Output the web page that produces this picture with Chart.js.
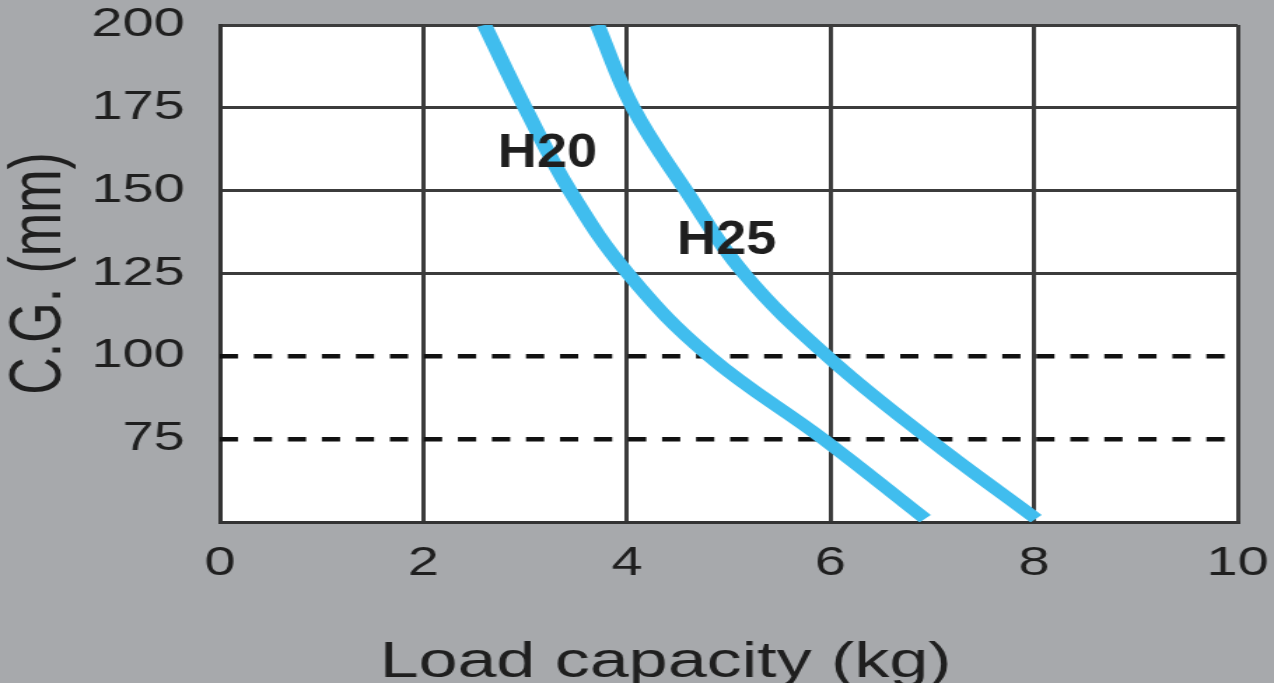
<!DOCTYPE html>
<html>
<head>
<meta charset="utf-8">
<script src="https://cdn.jsdelivr.net/npm/chart.js@4.4.1/dist/chart.umd.min.js"></script>
<style>
  html, body { margin: 0; padding: 0; background: #a7a9ac; overflow: hidden; }
  /* the original artwork is stretched sideways, so draw narrow and widen */
  #chart { display: block; transform: scaleX(1.4); transform-origin: 0 0; }
</style>
</head>
<body>
<canvas id="chart" width="910" height="683"></canvas>
<script>
// Values
const cgLevels = [200, 175, 150, 125, 100, 75, 51];
const h20Load = [2.6, 3.0, 3.44, 4.01, 4.81, 5.93, 6.93];
const h25Load = [3.71, 4.06, 4.58, 5.15, 5.97, 6.97, 8.02];
const guideLevels = [100, 75];
const guideSpan = [0, 10];
const curveNames = ['H20', 'H25'];

const blue = '#40bdee';
const ink = '#1f1f1f';
const gridColor = '#3c3c3c';

function toPoints(xs, ys) {
    return xs.map((x, i) => ({ x: x, y: ys[i] }));
}

// white plot area on the grey page
const plotBackground = {
    id: 'plotBackground',
    beforeDraw(chart) {
        const a = chart.chartArea;
        const ctx = chart.ctx;
        ctx.save();
        ctx.fillStyle = '#ffffff';
        ctx.fillRect(a.left, a.top, a.right - a.left, a.bottom - a.top);
        ctx.restore();
    }
};

// curve names and the x axis title
const textLabels = {
    id: 'textLabels',
    afterDatasetsDraw(chart) {
        const ctx = chart.ctx;
        const xs = chart.scales.x;
        const ys = chart.scales.y;
        const anchors = [[3.22, 157], [4.98, 131]];
        ctx.save();
        ctx.fillStyle = ink;
        ctx.textAlign = 'center';
        ctx.textBaseline = 'alphabetic';
        ctx.font = 'bold 49px "Liberation Sans", Arial, sans-serif';
        curveNames.forEach((name, i) => {
            ctx.save();
            ctx.translate(xs.getPixelForValue(anchors[i][0]), ys.getPixelForValue(anchors[i][1]));
            ctx.scale(0.79, 1);
            ctx.fillText(name, 0, 0);
            ctx.restore();
        });
        ctx.font = '50px "Liberation Sans", Arial, sans-serif';
        ctx.fillText('Load capacity (kg)', xs.getPixelForValue(4.38), 677);
        ctx.restore();
    }
};

const guideSets = guideLevels.map(level => ({
    label: 'guide ' + level,
    data: guideSpan.map(x => ({ x: x, y: level })),
    borderColor: '#111111',
    borderWidth: 4.5,
    borderDash: [13, 11.3],
    pointRadius: 0,
    order: 2
}));

const curveSets = [h20Load, h25Load].map((loads, i) => ({
    label: curveNames[i],
    data: toPoints(loads, cgLevels),
    borderColor: blue,
    borderWidth: 11,
    pointRadius: 0,
    tension: 0.4,
    clip: 0,
    order: 1
}));

new Chart(document.getElementById('chart'), {
    type: 'line',
    data: { datasets: guideSets.concat(curveSets) },
    options: {
        responsive: false,
        animation: false,
        layout: { padding: { top: 25, right: 26, left: 0, bottom: 0 } },
        plugins: {
            legend: { display: false },
            tooltip: { enabled: false }
        },
        scales: {
            x: {
                type: 'linear',
                min: 0,
                max: 10,
                afterFit(scale) {
                    scale.height = 161;
                    scale.paddingLeft = 0;
                    scale.paddingRight = 0;
                },
                ticks: {
                    stepSize: 2,
                    color: ink,
                    padding: 18,
                    font: { family: '"Liberation Sans", Arial, sans-serif', size: 40 }
                },
                grid: { color: gridColor, lineWidth: 3, drawTicks: false },
                border: { color: '#333333', width: 3 }
            },
            y: {
                type: 'linear',
                min: 50,
                max: 200,
                afterFit(scale) {
                    scale.width = 157;
                    scale.paddingTop = 0;
                    scale.paddingBottom = 0;
                },
                ticks: {
                    stepSize: 25,
                    color: ink,
                    padding: 25,
                    font: { family: '"Liberation Sans", Arial, sans-serif', size: 40 },
                    callback: v => (v === 50 ? '' : v)
                },
                grid: {
                    color: c => (guideLevels.includes(c.tick && c.tick.value) ? 'rgba(0,0,0,0)' : gridColor),
                    lineWidth: 3,
                    drawTicks: false
                },
                border: { color: '#333333', width: 3 },
                title: {
                    display: true,
                    text: 'C.G. (mm)',
                    color: ink,
                    padding: 0,
                    font: { family: '"Liberation Sans", Arial, sans-serif', size: 52, lineHeight: 1.1 }
                }
            }
        }
    },
    plugins: [plotBackground, textLabels]
});
</script>
</body>
</html>
